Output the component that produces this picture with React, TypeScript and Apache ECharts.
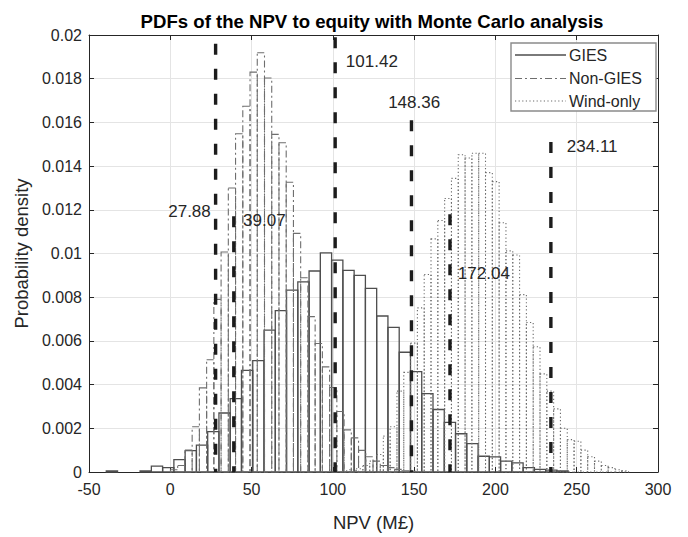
import React, { useEffect, useRef } from "react";
import * as echarts from "echarts";

// ---------- data ----------
const xMin = -50;
const xMax = 300;
const xStep = 50;
const yMin = 0;
const yMax = 0.02;
const yStep = 0.002;

// GIES histogram (uniform bins)
const giesFirstEdge = -39.37;
const giesBinWidth = 6.93;
const giesDensity = [
  0.00005, 0, 0, 0.00005, 0.00027, 0.0002, 0.00057, 0.00098, 0.00123,
  0.00185, 0.0027, 0.00336, 0.00465, 0.0051, 0.00649, 0.00739, 0.00832, 0.0087, 0.0092,
  0.01003, 0.0097, 0.00923, 0.009, 0.0084, 0.00714, 0.00662, 0.00548, 0.00459, 0.00359,
  0.00286, 0.00227, 0.00175, 0.0013, 0.00072, 0.00069, 0.0005, 0.00042, 0.0002, 0.00012,
  0.00009, 0.00005,
];

// Non-GIES histogram
const nonGiesFirstEdge = 0.1;
const nonGiesBinWidth = 4.45;
const nonGiesDensity = [
  0.0001, 0.0003, 0.001, 0.00207, 0.00385, 0.00514, 0.0079, 0.01007, 0.013, 0.01548,
  0.01674, 0.0183, 0.01919, 0.01803, 0.01545, 0.01507, 0.01326, 0.01092, 0.00889, 0.00711,
  0.00588, 0.00481, 0.00387, 0.00277, 0.00193, 0.00156, 0.00099, 0.0007, 0.0005, 0.0003,
  0.0002, 0.00012, 0.00006, 0.00003,
];

// Wind-only histogram
const windFirstEdge = 105.91;
const windBinWidth = 4.19;
const windDensity = [
  0.00005, 0.0001, 0.00015, 0.0003, 0.0005, 0.0008, 0.00164, 0.00207, 0.0037, 0.00456,
  0.0059, 0.00751, 0.00904, 0.01067, 0.01151, 0.01252, 0.01344, 0.01452, 0.01437, 0.01459,
  0.01459, 0.0137, 0.01329, 0.01141, 0.01012, 0.00993, 0.00812, 0.00684, 0.00573, 0.00449,
  0.0037, 0.00289, 0.002, 0.00148, 0.00141, 0.001, 0.0007, 0.0005, 0.0003, 0.0002, 0.0001,
  0.00005,
];

// vertical marker lines and their text annotations (data coordinates)
const markerX = [27.88, 39.07, 101.42, 148.36, 172.04, 234.11];
const markerTop = [0.0196, 0.0117, 0.0199, 0.0161, 0.0118, 0.0151];
const markerLabelX = [24.9, 44.8, 108.0, 150.0, 176.9, 243.9];
const markerLabelY = [0.0119, 0.0115, 0.0188, 0.0169, 0.0091, 0.0149];
const markerLabelAlign = ["right", "left", "left", "center", "left", "left"];

const legendNames = ["GIES", "Non-GIES", "Wind-only"];
const titleText = "PDFs of the NPV to equity with Monte Carlo analysis";
const xLabel = "NPV (M£)";
const yLabel = "Probability density";

// ---------- styles ----------
const FONT = "'Liberation Sans', Arial, Helvetica, sans-serif";
const AXIS_COLOR = "#262626";
const GIES_STYLE = { stroke: "#4e4e4e", lineWidth: 1.3, lineDash: null as any };
const NONGIES_STYLE = { stroke: "#6e6e6e", lineWidth: 1.1, lineDash: [7, 3, 2, 3] };
const WIND_STYLE = { stroke: "#6a6a6a", lineWidth: 1.1, lineDash: [1.2, 2.4] };

function histSeries(name: string, first: number, width: number, values: number[], st: any) {
  const data = values.map((v, i) => [first + i * width, first + (i + 1) * width, v]);
  return {
    type: "custom",
    name,
    data,
    encode: { x: [0, 1], y: 2 },
    renderItem: (_params: any, api: any) => {
      const x0 = api.value(0);
      const x1 = api.value(1);
      const v = api.value(2);
      if (!(v > 0)) return null;
      const p0 = api.coord([x0, v]);
      const p1 = api.coord([x1, 0]);
      return {
        type: "rect",
        shape: { x: p0[0], y: p0[1], width: p1[0] - p0[0], height: p1[1] - p0[1] },
        style: {
          fill: "none",
          stroke: st.stroke,
          lineWidth: st.lineWidth,
          lineDash: st.lineDash || undefined,
        },
      };
    },
    z: 2,
  };
}

export default function App() {
  const ref = useRef<HTMLDivElement>(null);

  useEffect(() => {
    if (!ref.current) return;
    const chart = echarts.init(ref.current, undefined, { renderer: "svg" });

    const markerData = markerX.map((x, i) => [x, markerTop[i], markerLabelX[i], markerLabelY[i]]);

    const gridLeft = 89;
    const gridRight = 30;
    const gridTop = 35;
    const gridBottom = 51.5;

    const legendX = 511;
    const legendY = 43;
    const legendW = 145;
    const legendH = 68;
    const rowY = [55, 78.5, 101];
    const legendStyles = [GIES_STYLE, NONGIES_STYLE, WIND_STYLE];

    const legendChildren: any[] = [
      {
        type: "rect",
        shape: { x: legendX, y: legendY, width: legendW, height: legendH },
        style: { fill: "#ffffff", stroke: "#8a8a8a", lineWidth: 1.4 },
        z: 100,
      },
    ];
    legendNames.forEach((n, i) => {
      const s = legendStyles[i];
      legendChildren.push({
        type: "line",
        shape: { x1: legendX + 4, y1: rowY[i], x2: legendX + 55, y2: rowY[i] },
        style: { stroke: s.stroke, lineWidth: s.lineWidth, lineDash: s.lineDash || undefined },
        z: 101,
      });
      legendChildren.push({
        type: "text",
        x: legendX + 58,
        y: rowY[i],
        style: {
          text: n,
          fill: AXIS_COLOR,
          font: `16px ${FONT}`,
          align: "left",
          verticalAlign: "middle",
        },
        z: 101,
      });
    });

    const option: any = {
      animation: false,
      backgroundColor: "#ffffff",
      textStyle: { fontFamily: FONT },
      grid: { left: gridLeft, right: gridRight, top: gridTop, bottom: gridBottom, containLabel: false },
      xAxis: [
        {
          type: "value",
          min: xMin,
          max: xMax,
          interval: xStep,
          name: xLabel,
          nameLocation: "middle",
          nameGap: 41,
          nameTextStyle: { fontSize: 18.5, color: AXIS_COLOR, fontFamily: FONT },
          axisLine: { show: true, onZero: false, lineStyle: { color: AXIS_COLOR, width: 1 } },
          axisTick: { show: true, inside: true, length: 5, lineStyle: { color: AXIS_COLOR } },
          axisLabel: { fontSize: 16, color: AXIS_COLOR, margin: 9, fontFamily: FONT },
          splitLine: { show: true, lineStyle: { color: "#e4e4e4", width: 1 } },
        },
        {
          type: "value",
          position: "top",
          min: xMin,
          max: xMax,
          interval: xStep,
          axisLine: { show: true, onZero: false, lineStyle: { color: AXIS_COLOR, width: 1 } },
          axisTick: { show: true, inside: true, length: 5, lineStyle: { color: AXIS_COLOR } },
          axisLabel: { show: false },
          splitLine: { show: false },
        },
      ],
      yAxis: [
        {
          type: "value",
          min: yMin,
          max: yMax,
          interval: yStep,
          name: yLabel,
          nameLocation: "middle",
          nameGap: 52,
          nameRotate: 90,
          nameTextStyle: { fontSize: 18.5, color: AXIS_COLOR, fontFamily: FONT },
          axisLine: { show: true, onZero: false, lineStyle: { color: AXIS_COLOR, width: 1 } },
          axisTick: { show: true, inside: true, length: 5, lineStyle: { color: AXIS_COLOR } },
          axisLabel: {
            fontSize: 16,
            color: AXIS_COLOR,
            margin: 7,
            fontFamily: FONT,
            formatter: (v: number) => String(parseFloat(v.toFixed(4))),
          },
          splitLine: { show: true, lineStyle: { color: "#e4e4e4", width: 1 } },
        },
        {
          type: "value",
          position: "right",
          min: yMin,
          max: yMax,
          interval: yStep,
          axisLine: { show: true, onZero: false, lineStyle: { color: AXIS_COLOR, width: 1 } },
          axisTick: { show: true, inside: true, length: 5, lineStyle: { color: AXIS_COLOR } },
          axisLabel: { show: false },
          splitLine: { show: false },
        },
      ],
      graphic: [
        {
          type: "text",
          x: 372,
          y: 21,
          style: {
            text: titleText,
            fill: "#000000",
            font: `bold 18.6px ${FONT}`,
            align: "center",
            verticalAlign: "middle",
          },
        },
        { type: "group", children: legendChildren, z: 100 },
      ],
      series: [
        histSeries("GIES", giesFirstEdge, giesBinWidth, giesDensity, GIES_STYLE),
        histSeries("Non-GIES", nonGiesFirstEdge, nonGiesBinWidth, nonGiesDensity, NONGIES_STYLE),
        histSeries("Wind-only", windFirstEdge, windBinWidth, windDensity, WIND_STYLE),
        {
          type: "custom",
          name: "markers",
          data: markerData,
          encode: { x: 0, y: 1 },
          z: 5,
          renderItem: (params: any, api: any) => {
            const i = params.dataIndex;
            const x = api.value(0);
            const top = api.value(1);
            const pTop = api.coord([x, top]);
            const pBot = api.coord([x, 0]);
            const lp = api.coord([api.value(2), api.value(3)]);
            return {
              type: "group",
              children: [
                {
                  type: "line",
                  shape: { x1: pTop[0], y1: pTop[1], x2: pBot[0], y2: pBot[1] },
                  style: { stroke: "#1c1c1c", lineWidth: 3.4, lineDash: [11, 14] },
                },
                {
                  type: "text",
                  x: lp[0],
                  y: lp[1],
                  style: {
                    text: markerX[i].toFixed(2),
                    fill: "#262626",
                    font: `17px ${FONT}`,
                    align: markerLabelAlign[i],
                    verticalAlign: "middle",
                  },
                },
              ],
            };
          },
        },
      ],
    };

    chart.setOption(option);
    return () => chart.dispose();
  }, []);

  return (
    <div
      ref={ref}
      style={{ position: "fixed", left: 0, top: 0, width: 688, height: 537, background: "#fff" }}
    />
  );
}
